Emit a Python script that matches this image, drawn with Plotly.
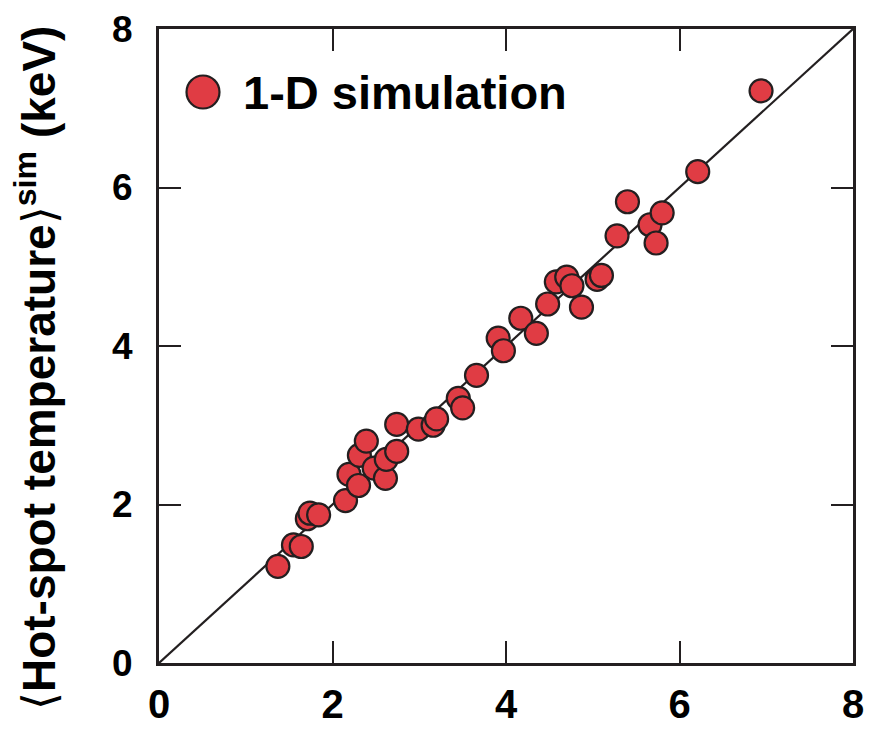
import plotly.graph_objects as go

# 1-D simulation: hot-spot temperature (keV), model vs. simulation
t_model = [1.37, 1.55, 1.64, 1.71, 1.74, 1.84, 2.15, 2.19, 2.30, 2.31, 2.39,
           2.48, 2.61, 2.62, 2.74, 2.74, 2.99, 3.16, 3.20, 3.45, 3.50, 3.66,
           3.91, 3.97, 4.17, 4.35, 4.48, 4.58, 4.70, 4.76, 4.87, 5.05, 5.10,
           5.28, 5.40, 5.66, 5.73, 5.80, 6.21, 6.94]
t_sim = [1.22, 1.49, 1.47, 1.82, 1.89, 1.87, 2.05, 2.38, 2.24, 2.62, 2.80,
         2.46, 2.33, 2.57, 2.67, 3.01, 2.95, 3.00, 3.08, 3.34, 3.22, 3.63,
         4.10, 3.94, 4.35, 4.16, 4.53, 4.81, 4.87, 4.76, 4.49, 4.84, 4.89,
         5.39, 5.82, 5.53, 5.30, 5.68, 6.20, 7.22]
axis_range = [0, 8]
tick_vals = [0, 2, 4, 6, 8]
series_name = "1-D simulation"

ink = "#231f20"
dot_red = "#e03c44"
font_family = "Liberation Sans, Arial, sans-serif"

fig = go.Figure()

# y = x reference line
fig.add_trace(go.Scatter(
    x=axis_range, y=axis_range, mode="lines",
    line=dict(color=ink, width=2.2), showlegend=False, hoverinfo="skip",
))

fig.add_trace(go.Scatter(
    x=t_model, y=t_sim, mode="markers", name=series_name, showlegend=False,
    marker=dict(size=23, color=dot_red, line=dict(color=ink, width=2.2)),
))

axis_common = dict(
    range=axis_range, tickvals=tick_vals, ticks="inside", ticklen=22,
    tickwidth=2, tickcolor=ink, showline=True, linewidth=2.8, linecolor=ink,
    mirror="ticks", showgrid=False, zeroline=False, automargin=False,
)

fig.update_layout(
    width=873, height=735,
    margin=dict(l=159, r=20, t=29, b=72),
    paper_bgcolor="white", plot_bgcolor="white",
    xaxis=dict(**axis_common, ticklabelstandoff=4,
               tickfont=dict(family=font_family, size=40, color="black",
                             weight="bold")),
    yaxis=dict(**axis_common, ticklabelstandoff=16,
               tickfont=dict(family=font_family, size=37, color="black",
                             weight="bold")),
    showlegend=False,
)

# legend key: large outlined dot plus bold label
fig.add_shape(
    type="circle", xref="paper", yref="paper",
    xsizemode="pixel", ysizemode="pixel",
    xanchor=0.0634, yanchor=0.9006,
    x0=-16.5, x1=16.5, y0=-16.5, y1=16.5,
    fillcolor=dot_red, line=dict(color=ink, width=2.2),
)
fig.add_annotation(
    xref="paper", yref="paper", x=0.118, y=0.9006,
    xanchor="left", yanchor="middle", showarrow=False,
    text="<b>" + series_name + "</b>",
    font=dict(family=font_family, size=47, color="black"),
)

# y-axis title with thin angle brackets around the quantity
fig.add_annotation(
    xref="paper", yref="paper", x=-0.178, y=0.466,
    xanchor="center", yanchor="middle", textangle=-90, showarrow=False,
    text=("\u27e8<b>Hot-spot temperature</b>\u27e9"
          "<sup><b>sim</b></sup><b> (keV)</b>"),
    font=dict(family=font_family, size=46, color="black"),
)

fig.write_html("out.html")
